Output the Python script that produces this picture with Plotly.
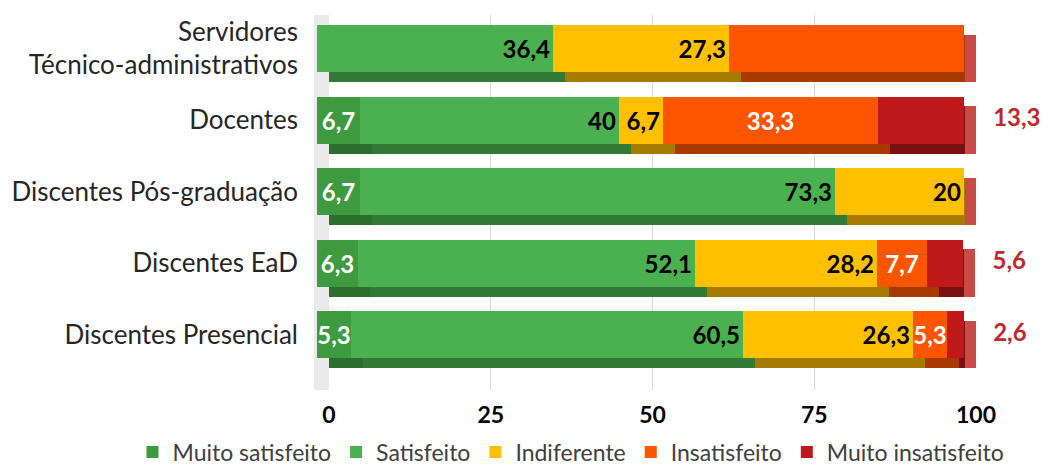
import plotly.graph_objects as go

categories = ["Servidores<br>Técnico-administrativos", "Docentes", "Discentes Pós-graduação",
              "Discentes EaD", "Discentes Presencial"]
series_names = ["Muito satisfeito", "Satisfeito", "Indiferente", "Insatisfeito", "Muito insatisfeito"]
muito_satisfeito = [0, 6.7, 6.7, 6.3, 5.3]
satisfeito = [36.4, 40, 73.3, 52.1, 60.5]
indiferente = [27.3, 6.7, 20, 28.2, 26.3]
insatisfeito = [36.4, 33.3, 0, 7.7, 5.3]
muito_insatisfeito = [0, 13.3, 0, 5.6, 2.6]
x_ticks = [0, 25, 50, 75, 100]

values = [muito_satisfeito, satisfeito, indiferente, insatisfeito, muito_insatisfeito]
front_colors = ["#3D9A3F", "#4BB04F", "#FFC000", "#FC5500", "#C0191B"]
bottom_colors = ["#2B6E2D", "#327A35", "#A67C00", "#A83A00", "#7A1010"]
side_color = "#C84B47"
label_colors = ["white", "black", "black", "white", "#C0282D"]
anchors = ["middle", "end", "end", "middle", None]

# page body has an 8px default margin: figure is placed at (8, 8)
OFF = 8
W, H = 1049 - OFF, 469 - OFF


def fx(p):
    return (p - OFF) / W


def fy(p):
    return 1 - (p - OFF) / H


n = len(categories)
ypos = list(range(n - 1, -1, -1))  # first category at top


def fmt(v):
    if v == 0:
        return ""
    s = f"{v:g}"
    return s.replace(".", ",")


totals = [sum(v[i] for v in values) for i in range(n)]
bases = []
acc = [0.0] * n
for v in values:
    bases.append(acc[:])
    acc = [acc[i] + v[i] for i in range(n)]

FONT = "Lato"
fig = go.Figure()
BW = 0.66

# depth (bottom faces)
for k, v in enumerate(values):
    fig.add_trace(go.Bar(y=ypos, x=v, base=bases[k], orientation="h", width=BW,
                         marker=dict(color=bottom_colors[k], line=dict(width=0)),
                         xaxis="x", yaxis="y", showlegend=False, hoverinfo="skip"))
# right side faces
side_w = 1.75
fig.add_trace(go.Bar(y=ypos, x=[side_w] * n, base=[t - side_w for t in totals], orientation="h",
                     width=BW, marker=dict(color=side_color, line=dict(width=0)),
                     xaxis="x", yaxis="y", showlegend=False, hoverinfo="skip"))

# front faces
for k, v in enumerate(values):
    if anchors[k] is not None:
        kw = dict(text=[fmt(a) for a in v], textposition="inside", insidetextanchor=anchors[k],
                  textangle=0,
                  textfont=dict(family=FONT, size=24, color=label_colors[k], weight="bold"),
                  constraintext="none")
    else:
        kw = dict(textposition="none")
    fig.add_trace(go.Bar(y=ypos, x=v, base=bases[k], orientation="h", width=BW, name=series_names[k],
                         marker=dict(color=front_colors[k], line=dict(width=0)),
                         xaxis="x2", yaxis="y2", **kw))

# outside labels for "Muito insatisfeito"
fig.add_trace(go.Scatter(y=ypos, x=totals, mode="text",
                         text=["\u00a0\u00a0\u00a0\u00a0\u00a0" + fmt(a) for a in muito_insatisfeito],
                         textposition="middle right",
                         textfont=dict(family=FONT, size=24, color="#C0282D", weight="bold"),
                         xaxis="x2", yaxis="y2", showlegend=False, hoverinfo="skip", cliponaxis=False))

pitch = 71.5
front_center0 = 334.5  # pixel of bottom category center (front)
shadow_center0 = front_center0 + 10
shadow_top, shadow_bot = 15, 390
front_top = front_center0 - pitch * (n - 0.5)
front_bot = front_center0 + pitch * 0.5

fig.update_layout(
    template="none",
    width=W, height=H, margin=dict(l=0, r=0, t=0, b=0, autoexpand=False),
    paper_bgcolor="white", plot_bgcolor="rgba(0,0,0,0)",
    barmode="overlay", bargap=0,
    font=dict(family=FONT, color="#404040"),
    xaxis=dict(domain=[fx(329), fx(976)], range=[0, 100], tickvals=x_ticks,
               showgrid=True, gridcolor="#D9D9D9", gridwidth=1, zeroline=False, ticks="",
               tickfont=dict(family=FONT, size=23, color="black", weight="bold"),
               ticklabelstandoff=9, anchor="y", showline=False, fixedrange=True, automargin=False),
    yaxis=dict(domain=[fy(shadow_bot), fy(shadow_top)],
               range=[(shadow_center0 - shadow_bot) / pitch, (shadow_center0 - shadow_top) / pitch],
               showgrid=False, zeroline=False, showticklabels=False, ticks="",
               showline=True, linecolor="#EAEAEA", linewidth=15, anchor="free", position=fx(321),
               automargin=False),
    xaxis2=dict(domain=[fx(317), fx(964)], range=[0, 100], visible=False, anchor="y2", automargin=False),
    yaxis2=dict(domain=[fy(front_bot), fy(front_top)], range=[-0.5, n - 0.5],
                tickvals=ypos, ticktext=categories, anchor="x2", showgrid=False, zeroline=False,
                ticks="", showline=False, automargin=False,
                tickfont=dict(family=FONT, size=26, color="#262626"), ticklabelstandoff=18),
    legend=dict(orientation="h", x=fx(571), xanchor="center", y=fy(452), yanchor="middle",
                font=dict(family=FONT, size=23, color="#404040"), traceorder="normal",
                itemwidth=30, bgcolor="rgba(0,0,0,0)", borderwidth=0),
    showlegend=True,
)

fig.write_html("out.html")
